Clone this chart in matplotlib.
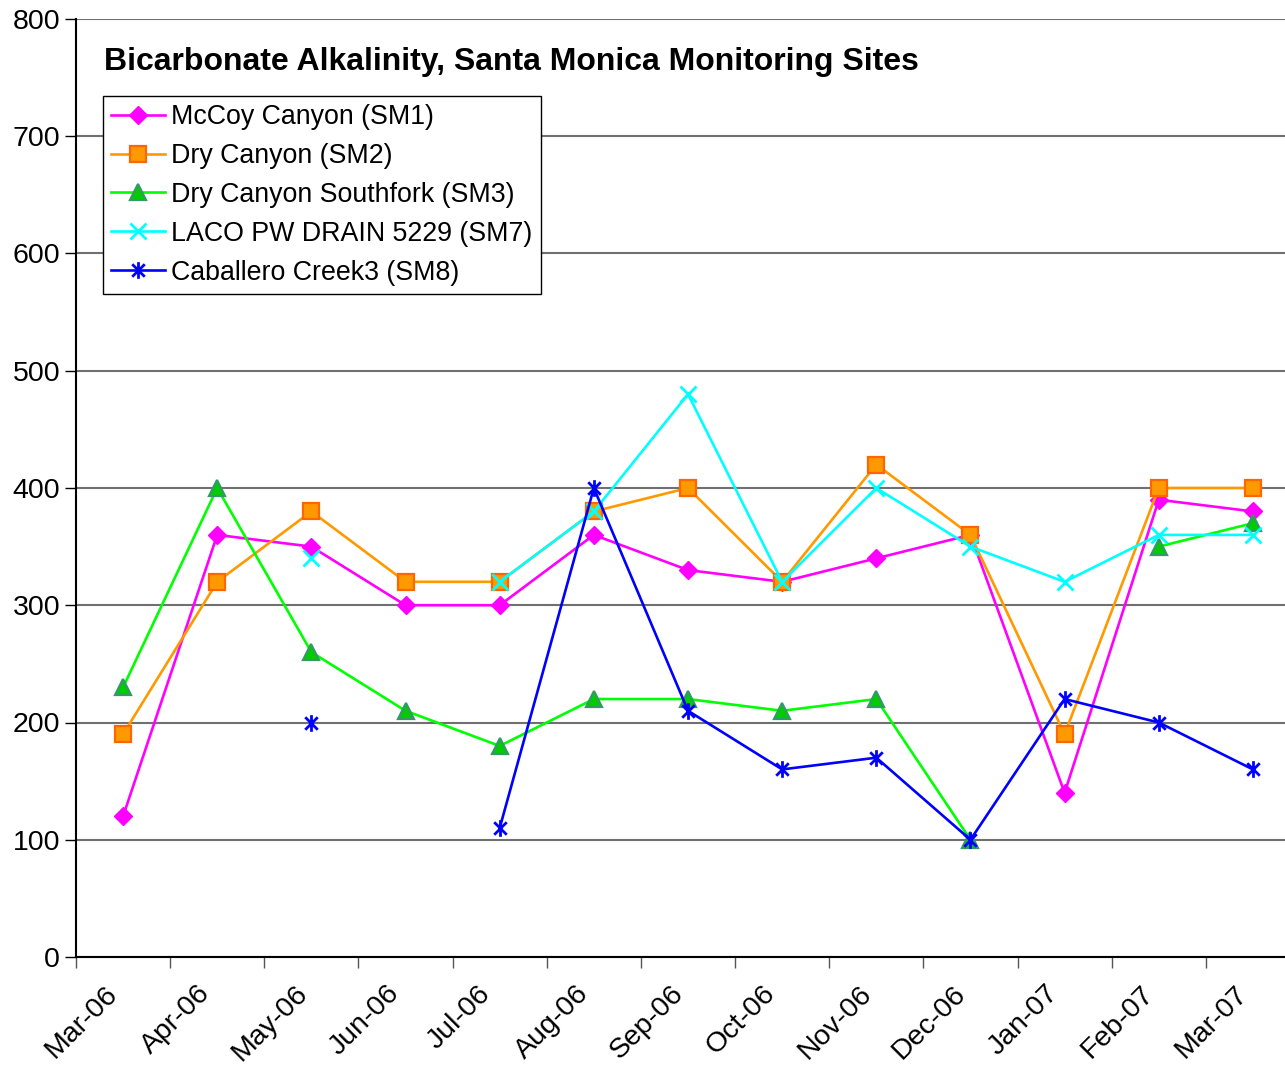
import numpy as np
import matplotlib
matplotlib.use('Agg')
import matplotlib.pyplot as plt
import matplotlib.transforms as mtransforms
from matplotlib.path import Path

plt.rcParams['font.family'] = ['Liberation Sans', 'DejaVu Sans']

months = ['Mar-06', 'Apr-06', 'May-06', 'Jun-06', 'Jul-06', 'Aug-06', 'Sep-06',
          'Oct-06', 'Nov-06', 'Dec-06', 'Jan-07', 'Feb-07', 'Mar-07']
nan = np.nan

sm1 = [120, 360, 350, 300, 300, 360, 330, 320, 340, 360, 140, 390, 380]
sm2 = [190, 320, 380, 320, 320, 380, 400, 320, 420, 360, 190, 400, 400]
sm3 = [230, 400, 260, 210, 180, 220, 220, 210, 220, 100, nan, 350, 370]
sm7 = [nan, nan, 340, nan, 320, 380, 480, 320, 400, 350, 320, 360, 360]
sm8 = [nan, nan, 200, nan, 110, 400, 210, 160, 170, 100, 220, 200, 160]

names = ['McCoy Canyon (SM1)', 'Dry Canyon (SM2)', 'Dry Canyon Southfork (SM3)',
         'LACO PW DRAIN 5229 (SM7)', 'Caballero Creek3 (SM8)']

# asterisk marker: vertical bar + X
ast = Path([(0, -1), (0, 1), (-0.75, -0.75), (0.75, 0.75), (-0.75, 0.75), (0.75, -0.75)],
           [1, 2, 1, 2, 1, 2])

fig = plt.figure(figsize=(12.85, 10.65), dpi=100)
ax = fig.add_axes([76/1285, 1-957/1065, (1300-76)/1285, (957-19)/1065])

x = np.arange(len(months)) + 0.5

ax.plot(x, sm1, color='#FF00FF', lw=1.9, marker='D', ms=9.5, mfc='#FF00FF', mec='#FF00FF', label=names[0], zorder=3)
ax.plot(x, sm2, color='#FF9900', lw=1.9, marker='s', ms=11, mfc='#FF9900', mec='#FF6600', mew=1.6, label=names[1], zorder=3)
ax.plot(x, sm3, color='#00FF00', lw=1.9, marker='^', ms=11, mfc='#00CC00', mec='#339966', mew=1.6, label=names[2], zorder=3)
ax.plot(x, sm7, color='#00FFFF', lw=1.9, marker='x', ms=12, mew=2, mec='#00FFFF', label=names[3], zorder=3)
ax.plot(x, sm8, color='#0000FF', lw=1.9, marker=ast, ms=12, mew=2, mec='#0000FF', label=names[4], zorder=3)

ax.set_xlim(0, 13)
ax.set_ylim(0, 800)
ax.set_yticks(np.arange(0, 801, 100))
ax.set_xticks(np.arange(13))
ax.set_xticklabels(months, rotation=45, ha='center', va='top', fontsize=20.5)
ax.tick_params(axis='x', length=8, width=1, pad=9, color='#555555')
ax.tick_params(axis='y', length=8, width=1, labelsize=20.5, color='#000000')
# nudge the date labels a little to the right, as in the original
shift = mtransforms.ScaledTranslation(6/100, 0, fig.dpi_scale_trans)
for lab in ax.get_xticklabels():
    lab.set_transform(lab.get_transform() + shift)
ax.yaxis.grid(True, color='#707070', lw=1.5)
ax.set_axisbelow(True)
for s in ['top', 'right']:
    ax.spines[s].set_visible(False)
ax.spines['left'].set_linewidth(1.5)
ax.spines['bottom'].set_linewidth(1.5)

fig.text(104/1285, 1-62/1065, 'Bicarbonate Alkalinity, Santa Monica Monitoring Sites',
         fontsize=23, fontweight='bold', ha='left', va='center')

leg = ax.legend(loc='upper left', bbox_to_anchor=(103/1285, 1-96/1065), bbox_transform=fig.transFigure,
                fontsize=19.3, frameon=True, fancybox=False, framealpha=1, edgecolor='black',
                handlelength=2.0, handletextpad=0.25, labelspacing=0.48, borderpad=0.3, borderaxespad=0)
leg.get_frame().set_linewidth(1)

fig.savefig('out.png', dpi=100)
